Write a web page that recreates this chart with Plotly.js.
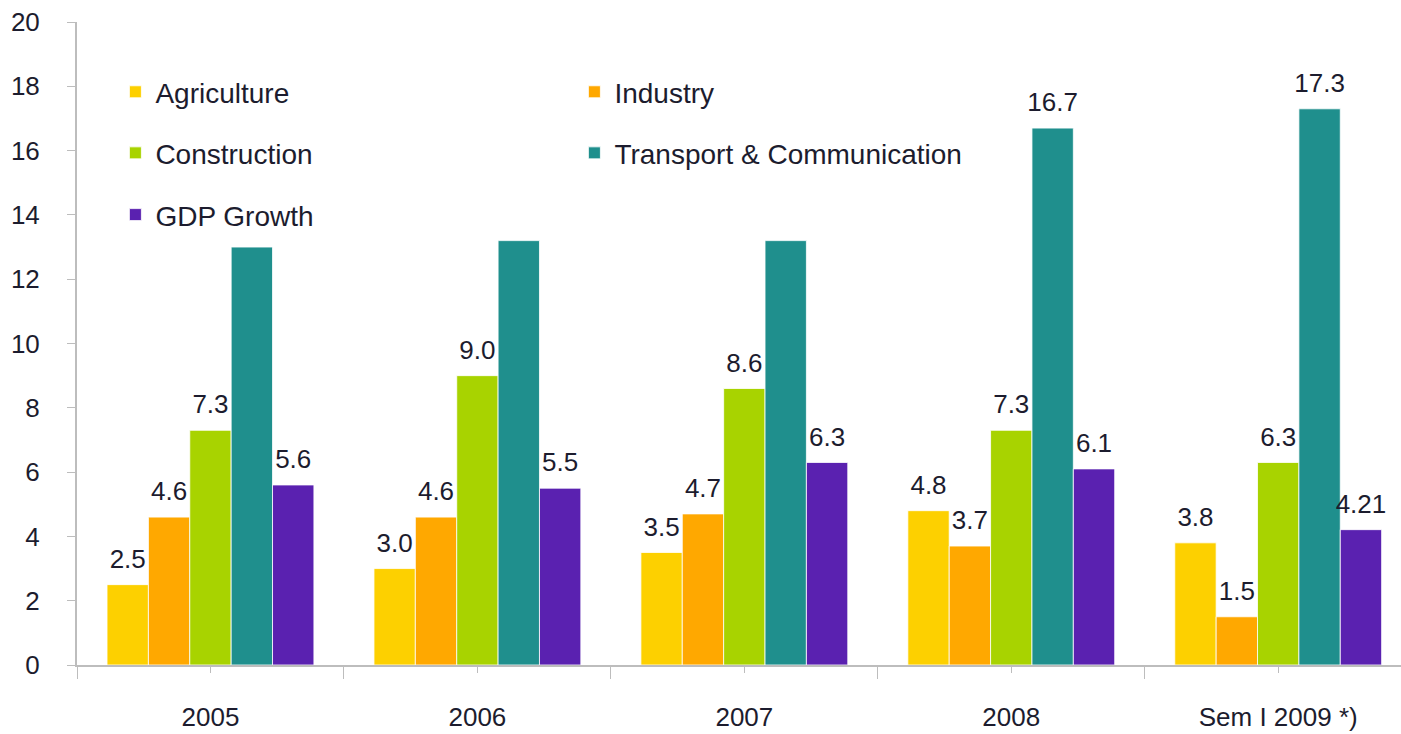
<!DOCTYPE html>
<html>
<head>
<meta charset="utf-8">
<script src="https://cdn.plot.ly/plotly-3.0.1.min.js"></script>
<style>
  html, body { margin: 0; padding: 0; background: #fff; }
  #chart { width: 1401px; height: 734px; }
</style>
</head>
<body>
<div id="chart"></div>
<script>
// Catégories (axe x)
const categories = ["2005", "2006", "2007", "2008", "Sem I 2009 *)"];

// Valeurs par secteur (%)
const agriculture = [2.5, 3.0, 3.5, 4.8, 3.8];
const industry = [4.6, 4.6, 4.7, 3.7, 1.5];
const construction = [7.3, 9.0, 8.6, 7.3, 6.3];
const transport = [13.0, 13.2, 13.2, 16.7, 17.3];
const gdpGrowth = [5.6, 5.5, 6.3, 6.1, 4.21];

// Étiquettes affichées au-dessus des barres
const agricultureLabels = ["2.5", "3.0", "3.5", "4.8", "3.8"];
const industryLabels = ["4.6", "4.6", "4.7", "3.7", "1.5"];
const constructionLabels = ["7.3", "9.0", "8.6", "7.3", "6.3"];
const transportLabels = ["", "", "", "16.7", "17.3"];
const gdpLabels = ["5.6", "5.5", "6.3", "6.1", "4.21"];

const xPos = categories.map((c, i) => i);
const textColor = "#1c1c2e";
const font = "Liberation Sans, Arial, sans-serif";

const series = [
  { name: "Agriculture", values: agriculture, labels: agricultureLabels, color: "#FDD000", legend: "legend" },
  { name: "Industry", values: industry, labels: industryLabels, color: "#FFA800", legend: "legend" },
  { name: "Construction", values: construction, labels: constructionLabels, color: "#A8D300", legend: "legend2" },
  { name: "Transport & Communication", values: transport, labels: transportLabels, color: "#1F8F8D", legend: "legend2" },
  { name: "GDP Growth", values: gdpGrowth, labels: gdpLabels, color: "#5A21B0", legend: "legend3" },
];

// Barres
const barTraces = series.map((s, i) => ({
  type: "bar",
  name: s.name,
  x: xPos,
  y: s.values,
  offsetgroup: "g" + i,
  marker: { color: s.color, line: { color: "rgba(255,255,255,0.8)", width: 1 } },
  legend: s.legend,
  hoverinfo: "x+y",
}));

// Étiquettes de valeurs (scatter groupé, aligné sur les barres)
const labelTraces = series.map((s, i) => ({
  type: "scatter",
  mode: "markers+text",
  x: xPos,
  y: s.values,
  text: s.labels,
  offsetgroup: "g" + i,
  textposition: "top center",
  cliponaxis: false,
  textfont: { family: font, size: 26, color: textColor },
  marker: { size: 15, color: "rgba(0,0,0,0)" },
  showlegend: false,
  hoverinfo: "skip",
}));

function legendRow(y) {
  return {
    x: 0.029,
    y: y,
    xanchor: "left",
    yanchor: "middle",
    orientation: "h",
    entrywidth: 414,
    entrywidthmode: "pixels",
    bgcolor: "rgba(0,0,0,0)",
    font: { family: font, size: 28, color: textColor },
  };
}

const layout = {
  width: 1401,
  height: 734,
  margin: { l: 77, r: 0, t: 22, b: 69 },
  paper_bgcolor: "#fff",
  plot_bgcolor: "#fff",
  barmode: "group",
  bargap: 0.225,
  bargroupgap: 0,
  scattermode: "group",
  scattergap: 0.225,
  showlegend: true,
  legend: legendRow(0.891),
  legend2: legendRow(0.796),
  legend3: legendRow(0.70),
  xaxis: {
    range: [-0.5, 4.46],
    tickvals: xPos,
    ticktext: categories,
    ticks: "outside",
    ticklen: 6,
    tickcolor: "#bdbdbd",
    showline: true,
    linecolor: "#bdbdbd",
    linewidth: 2,
    showgrid: false,
    zeroline: false,
    ticklabelstandoff: 22,
    tickfont: { family: font, size: 26, color: textColor },
    minor: {
      tickvals: [-0.5, 0.5, 1.5, 2.5, 3.5],
      ticks: "outside",
      ticklen: 12,
      tickcolor: "#bdbdbd",
      showgrid: false,
    },
  },
  yaxis: {
    range: [0, 20],
    dtick: 2,
    ticks: "outside",
    ticklen: 8,
    tickcolor: "#bdbdbd",
    showline: true,
    linecolor: "#bdbdbd",
    linewidth: 2,
    showgrid: false,
    zeroline: false,
    ticklabelstandoff: 22,
    tickfont: { family: font, size: 26, color: textColor },
  },
};

Plotly.newPlot("chart", barTraces.concat(labelTraces), layout, { displayModeBar: false, staticPlot: true });
</script>
</body>
</html>
